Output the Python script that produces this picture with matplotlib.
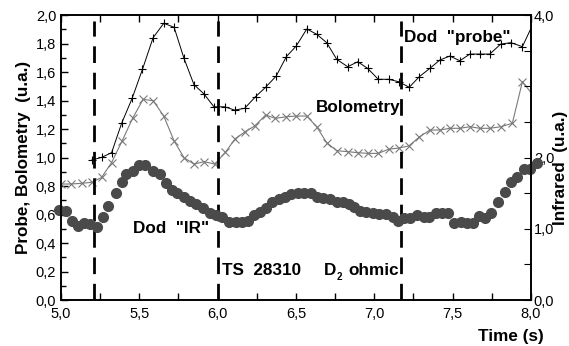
import numpy as np
import matplotlib
matplotlib.use("Agg")
import matplotlib.pyplot as plt
from matplotlib.ticker import MultipleLocator, FuncFormatter

plt.rcParams['font.family'] = ['Liberation Sans', 'DejaVu Sans']

# Probe signal (+), left axis
probe_t = [5.196, 5.259, 5.323, 5.387, 5.454, 5.520, 5.588, 5.656, 5.722, 5.785,
           5.849, 5.913, 5.976, 6.045, 6.108, 6.172, 6.242, 6.306, 6.374, 6.438,
           6.501, 6.569, 6.632, 6.696, 6.760, 6.830, 6.894, 6.957, 7.025, 7.091,
           7.155, 7.223, 7.287, 7.355, 7.418, 7.482, 7.546, 7.610, 7.673, 7.737,
           7.807, 7.871, 7.945, 8.025]
probe_v = [0.982, 1.001, 1.034, 1.240, 1.415, 1.619, 1.841, 1.942, 1.914, 1.696,
           1.511, 1.446, 1.356, 1.356, 1.333, 1.345, 1.427, 1.493, 1.572, 1.707,
           1.782, 1.902, 1.865, 1.806, 1.689, 1.637, 1.672, 1.626, 1.549, 1.549,
           1.532, 1.493, 1.567, 1.626, 1.684, 1.712, 1.679, 1.726, 1.726, 1.726,
           1.796, 1.806, 1.778, 1.965]

# Bolometry (x), left axis
bolo_t = [5.000, 5.064, 5.131, 5.196, 5.259, 5.323, 5.390, 5.457, 5.524, 5.588,
          5.656, 5.722, 5.785, 5.849, 5.913, 5.981, 6.049, 6.111, 6.175, 6.236,
          6.306, 6.369, 6.438, 6.501, 6.569, 6.632, 6.696, 6.760, 6.830, 6.894,
          6.957, 7.025, 7.091, 7.159, 7.220, 7.287, 7.355, 7.418, 7.482, 7.546,
          7.610, 7.673, 7.737, 7.807, 7.881, 7.945, 8.038]
bolo_v = [0.814, 0.814, 0.819, 0.826, 0.860, 0.965, 1.116, 1.275, 1.408, 1.399,
          1.291, 1.116, 0.999, 0.954, 0.971, 0.954, 1.036, 1.131, 1.181, 1.221,
          1.298, 1.275, 1.286, 1.291, 1.291, 1.216, 1.104, 1.048, 1.041, 1.034,
          1.029, 1.029, 1.058, 1.067, 1.081, 1.144, 1.193, 1.193, 1.205, 1.205,
          1.216, 1.205, 1.205, 1.216, 1.240, 1.532, 1.404]

# Infrared (dots), right axis
ir_t = [4.990, 5.032, 5.068, 5.108, 5.148, 5.182, 5.229, 5.269, 5.301, 5.348,
        5.387, 5.418, 5.461, 5.497, 5.539, 5.589, 5.631, 5.669, 5.707, 5.742,
        5.783, 5.822, 5.864, 5.906, 5.949, 5.989, 6.030, 6.072, 6.117, 6.157,
        6.193, 6.229, 6.272, 6.310, 6.348, 6.390, 6.427, 6.469, 6.511, 6.554,
        6.597, 6.632, 6.675, 6.718, 6.760, 6.803, 6.841, 6.873, 6.909, 6.947,
        6.989, 7.032, 7.075, 7.117, 7.148, 7.187, 7.229, 7.272, 7.314, 7.350,
        7.393, 7.435, 7.471, 7.510, 7.552, 7.590, 7.633, 7.669, 7.707, 7.747,
        7.790, 7.832, 7.871, 7.913, 7.955, 7.994, 8.036]
ir_v = [1.270, 1.249, 1.109, 1.039, 1.081, 1.060, 1.020, 1.161, 1.319, 1.498,
        1.652, 1.764, 1.815, 1.895, 1.895, 1.815, 1.764, 1.646, 1.544, 1.502,
        1.446, 1.389, 1.347, 1.287, 1.221, 1.197, 1.169, 1.095, 1.099, 1.088,
        1.109, 1.193, 1.239, 1.287, 1.380, 1.413, 1.450, 1.484, 1.498, 1.506,
        1.506, 1.450, 1.427, 1.413, 1.380, 1.380, 1.347, 1.301, 1.253, 1.235,
        1.217, 1.203, 1.203, 1.161, 1.113, 1.147, 1.147, 1.193, 1.161, 1.161,
        1.217, 1.217, 1.217, 1.085, 1.099, 1.085, 1.076, 1.179, 1.147, 1.217,
        1.380, 1.520, 1.652, 1.731, 1.834, 1.834, 1.927]

event_times = [5.21, 6.0, 7.17]


def comma(v, pos):
    return f"{v:.1f}".replace(".", ",")


def comma_right(v, pos):
    # only the integer ticks are labelled, and 3,0 is left out
    if abs(v - round(v)) > 1e-6 or abs(v - 3.0) < 1e-6:
        return ""
    return f"{v:.1f}".replace(".", ",")


fig = plt.figure(figsize=(5.69, 3.46), dpi=100)
ax = fig.add_axes([0.1072, 0.1329, 0.826, 0.8237])
ax2 = ax.twinx()

ax.plot(probe_t, probe_v, color='black', lw=0.7, marker='+', ms=6, mew=0.8)
ax.plot(bolo_t, bolo_v, color='#7a7a7a', lw=0.8, marker='x', ms=6, mew=0.8)
ax2.plot(ir_t, ir_v, ls='none', marker='o', ms=7, color='#4a4a4a',
         mec='#4a4a4a', clip_on=False)

for t in event_times:
    ln, = ax.plot([t, t], [0, 1.96], color='black', lw=2.0)
    ln.set_dashes((6, 3.5))

ax.set_xlim(5.0, 8.0)
ax.set_ylim(0.0, 2.0)
ax2.set_ylim(0.0, 4.0)

ax.xaxis.set_major_locator(MultipleLocator(0.5))
ax.xaxis.set_minor_locator(MultipleLocator(0.25))
ax.yaxis.set_major_locator(MultipleLocator(0.2))
ax.yaxis.set_minor_locator(MultipleLocator(0.1))
ax.xaxis.set_major_formatter(FuncFormatter(comma))
ax.yaxis.set_major_formatter(FuncFormatter(comma))
ax2.yaxis.set_major_locator(MultipleLocator(0.5))
ax2.yaxis.set_major_formatter(FuncFormatter(comma_right))

ax.tick_params(axis='both', which='both', direction='in', labelsize=10.5,
               top=True, width=1.0)
ax.tick_params(which='major', length=5)
ax.tick_params(which='minor', length=3.5)
ax.tick_params(axis='x', which='minor', length=5)
ax.tick_params(axis='x', pad=5)
ax2.tick_params(axis='y', direction='in', length=5, labelsize=10.5, pad=2)

for a in (ax, ax2):
    for s in a.spines.values():
        s.set_linewidth(1.2)

ax.set_ylabel('Probe, Bolometry  (u.a.)', fontsize=12.3, fontweight='bold', labelpad=3)
fig.text(0.999, 1 - 168 / 346, 'Infrared  (u.a.)', fontsize=12.3, fontweight='bold',
         rotation=90, ha='right', va='center')
fig.text(0.897, 0.005, 'Time (s)', fontsize=12.3, fontweight='bold', ha='center', va='bottom')

ax.text(7.19, 1.84, 'Dod  "probe"', fontsize=12.3, fontweight='bold', va='center')
ax.text(6.624, 1.354, 'Bolometry', fontsize=12.3, fontweight='bold', va='center')
ax.text(5.459, 0.505, 'Dod  "IR"', fontsize=12.3, fontweight='bold', va='center')
ax.text(6.025, 0.21, 'TS  28310', fontsize=12.3, fontweight='bold', va='center')
ax.text(6.675, 0.21, 'D', fontsize=12.3, fontweight='bold', va='center')
ax.text(6.760, 0.165, '2', fontsize=7, fontweight='bold', va='center')
ax.text(6.834, 0.21, 'ohmic', fontsize=12.3, fontweight='bold', va='center')

fig.savefig('out.png', dpi=100)
